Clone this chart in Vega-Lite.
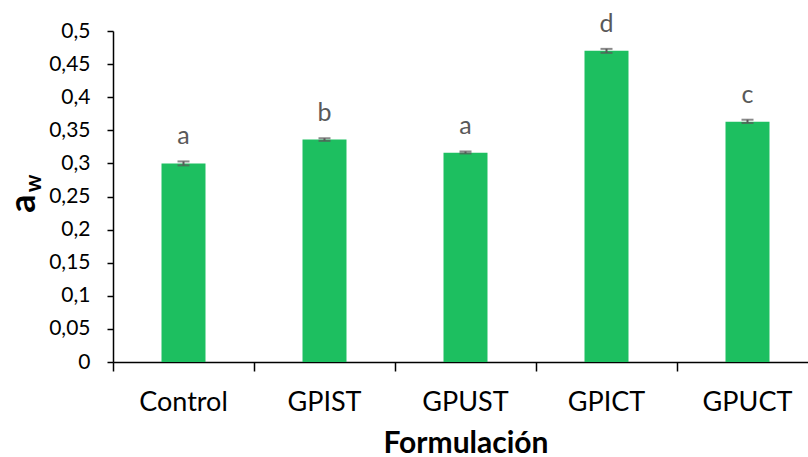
{
  "$schema": "https://vega.github.io/schema/vega-lite/v6.json",
  "autosize": {"type": "none"},
  "padding": {"left": 113, "top": 31, "right": 0, "bottom": 95},
  "width": 705,
  "height": 331,
  "background": "white",
  "config": {"view": {"stroke": null}, "font": "Lato"},
  "data": {"values": [
    {"f": "Control", "v": 0.300, "lo": 0.297, "hi": 0.303, "g": "a"},
    {"f": "GPIST", "v": 0.336, "lo": 0.334, "hi": 0.338, "g": "b"},
    {"f": "GPUST", "v": 0.316, "lo": 0.315, "hi": 0.318, "g": "a"},
    {"f": "GPICT", "v": 0.470, "lo": 0.467, "hi": 0.473, "g": "d"},
    {"f": "GPUCT", "v": 0.363, "lo": 0.361, "hi": 0.366, "g": "c"}
  ]},
  "resolve": {"scale": {"y": "independent"}, "axis": {"y": "independent"}},
  "layer": [
    {
      "encoding": {
        "x": {"field": "f", "type": "nominal", "sort": null,
          "scale": {"paddingInner": 0, "paddingOuter": 0},
          "axis": {"title": "Formulación", "labelAngle": 0, "bandPosition": 0,
            "labelOverlap": false, "labelBound": false, "labelFlush": false,
            "domainColor": "black", "domainWidth": 1.5, "tickColor": "black", "tickWidth": 1.5, "tickSize": 9,
            "labelFontSize": 27, "labelColor": "black", "labelBaseline": "alphabetic", "labelPadding": 39,
            "titleFontSize": 30, "titleFontWeight": "bold", "titleColor": "black",
            "titleBaseline": "alphabetic", "titleY": 90, "titleX": 352.5}}
      },
      "layer": [
        {
          "mark": {"type": "bar", "color": "#1DBF60", "width": {"band": 0.312}},
          "encoding": {
            "y": {"field": "v", "type": "quantitative", "scale": {"domain": [0, 0.5], "nice": false},
              "axis": {"title": "a", "values": [0, 0.05, 0.1, 0.15, 0.2, 0.25, 0.3, 0.35, 0.4, 0.45, 0.5],
                "format": ".2~f", "labelExpr": "replace(datum.label, '.', ',')",
                "labelOverlap": false, "labelBound": false, "labelFlush": false,
                "grid": false, "domainColor": "black", "domainWidth": 1.5, "tickColor": "black", "tickWidth": 1.5, "tickSize": 6,
                "labelFontSize": 21, "labelColor": "black", "labelPadding": 17,
                "titleFontSize": 36, "titleFontWeight": "bold", "titleColor": "black",
                "titleBaseline": "alphabetic", "titleAngle": -90, "titleX": -79, "titleY": 172}}
          }
        },
        {
          "mark": {"type": "tick", "color": "#595959", "size": 12, "thickness": 2},
          "encoding": {"y": {"field": "lo", "type": "quantitative",
              "axis": {"title": "a", "values": [0, 0.05, 0.1, 0.15, 0.2, 0.25, 0.3, 0.35, 0.4, 0.45, 0.5],
                "format": ".2~f", "labelExpr": "replace(datum.label, '.', ',')",
                "labelOverlap": false, "labelBound": false, "labelFlush": false,
                "grid": false, "domainColor": "black", "domainWidth": 1.5, "tickColor": "black", "tickWidth": 1.5, "tickSize": 6,
                "labelFontSize": 21, "labelColor": "black", "labelPadding": 17,
                "titleFontSize": 36, "titleFontWeight": "bold", "titleColor": "black",
                "titleBaseline": "alphabetic", "titleAngle": -90, "titleX": -79, "titleY": 172}}}
        },
        {
          "mark": {"type": "tick", "color": "#595959", "size": 12, "thickness": 2},
          "encoding": {"y": {"field": "hi", "type": "quantitative",
              "axis": {"title": "a", "values": [0, 0.05, 0.1, 0.15, 0.2, 0.25, 0.3, 0.35, 0.4, 0.45, 0.5],
                "format": ".2~f", "labelExpr": "replace(datum.label, '.', ',')",
                "labelOverlap": false, "labelBound": false, "labelFlush": false,
                "grid": false, "domainColor": "black", "domainWidth": 1.5, "tickColor": "black", "tickWidth": 1.5, "tickSize": 6,
                "labelFontSize": 21, "labelColor": "black", "labelPadding": 17,
                "titleFontSize": 36, "titleFontWeight": "bold", "titleColor": "black",
                "titleBaseline": "alphabetic", "titleAngle": -90, "titleX": -79, "titleY": 172}}}
        },
        {
          "mark": {"type": "text", "color": "#595959", "fontSize": 25, "baseline": "alphabetic", "dy": -17},
          "encoding": {"y": {"field": "hi", "type": "quantitative",
              "axis": {"title": "a", "values": [0, 0.05, 0.1, 0.15, 0.2, 0.25, 0.3, 0.35, 0.4, 0.45, 0.5],
                "format": ".2~f", "labelExpr": "replace(datum.label, '.', ',')",
                "labelOverlap": false, "labelBound": false, "labelFlush": false,
                "grid": false, "domainColor": "black", "domainWidth": 1.5, "tickColor": "black", "tickWidth": 1.5, "tickSize": 6,
                "labelFontSize": 21, "labelColor": "black", "labelPadding": 17,
                "titleFontSize": 36, "titleFontWeight": "bold", "titleColor": "black",
                "titleBaseline": "alphabetic", "titleAngle": -90, "titleX": -79, "titleY": 172}},
            "text": {"field": "g"}}
        }
      ]
    },
    {
      "mark": {"type": "rule", "color": "#595959", "strokeWidth": 2},
      "encoding": {
        "x": {"field": "f", "type": "nominal", "sort": null},
        "y": {"field": "lo", "type": "quantitative", "scale": {"domain": [0, 0.5], "nice": false},
          "axis": {"orient": "right", "title": "w", "labels": false, "ticks": false, "domain": false, "grid": false,
            "titleFontSize": 22, "titleFontWeight": "bold", "titleColor": "black",
            "titleBaseline": "alphabetic", "titleAngle": -90, "titleX": -778, "titleY": 152}},
        "y2": {"field": "hi"}
      }
    }
  ]
}
